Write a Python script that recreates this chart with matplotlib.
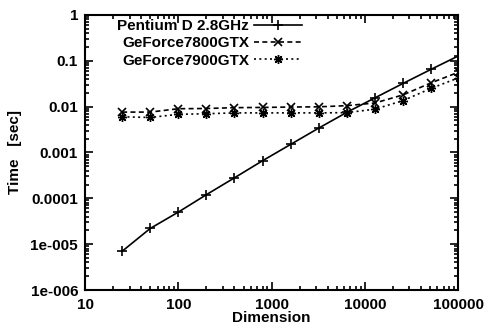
import matplotlib
matplotlib.use("Agg")
import matplotlib.pyplot as plt
from matplotlib.ticker import LogLocator, FixedLocator, FixedFormatter, NullFormatter

plt.rcParams['font.family'] = ['Liberation Sans', 'DejaVu Sans']

dimension = [25, 50, 100, 200, 400, 800, 1600, 3200, 6400, 12800, 25600, 51200, 102400]
pentium = [7e-6, 2.2e-5, 5e-5, 1.2e-4, 2.8e-4, 6.6e-4, 1.5e-3, 3.4e-3, 7.5e-3,
           0.0155, 0.032, 0.065, 0.13]
gf7800 = [0.0076, 0.0076, 0.009, 0.0091, 0.0095, 0.0096, 0.0098, 0.0099, 0.0105,
          0.012, 0.018, 0.033, 0.057]
gf7900 = [0.006, 0.0058, 0.0068, 0.007, 0.0073, 0.0073, 0.0073, 0.0073, 0.0074,
          0.0088, 0.0135, 0.025, 0.043]

yticks = [1e-6, 1e-5, 1e-4, 1e-3, 1e-2, 1e-1, 1]
ytick_labels = ['1e-006', '1e-005', '0.0001', '0.001', '0.01', '0.1', '1']
xticks = [10, 100, 1000, 10000, 100000]
xtick_labels = ['10', '100', '1000', '10000', '100000']

fig = plt.figure(figsize=(4.9, 3.32), dpi=100)
ax = fig.add_axes([0.1735, 0.1265, 0.7615, 0.8285])

lw = 1.2
ax.plot(dimension, pentium, color='black', lw=lw, linestyle='-', marker='+',
        markersize=7, mew=1.2, label='Pentium D 2.8GHz')
ax.plot(dimension, gf7800, color='black', lw=lw, linestyle=(0, (3, 2)), marker='x',
        markersize=6, mew=1.2, label='GeForce7800GTX')
ax.plot(dimension, gf7900, color='black', lw=lw, linestyle=(0, (1.2, 2)), marker=(8, 2, 0),
        markersize=6.5, mew=1.0, label='GeForce7900GTX')

ax.set_xscale('log')
ax.set_yscale('log')
ax.set_xlim(10, 100000)
ax.set_ylim(1e-6, 1)

ax.xaxis.set_major_locator(FixedLocator(xticks))
ax.xaxis.set_major_formatter(FixedFormatter(xtick_labels))
ax.yaxis.set_major_locator(FixedLocator(yticks))
ax.yaxis.set_major_formatter(FixedFormatter(ytick_labels))
ax.xaxis.set_minor_locator(LogLocator(base=10, subs=range(2, 10), numticks=20))
ax.yaxis.set_minor_locator(LogLocator(base=10, subs=range(2, 10), numticks=20))
ax.xaxis.set_minor_formatter(NullFormatter())
ax.yaxis.set_minor_formatter(NullFormatter())

ax.tick_params(which='both', direction='in', top=True, right=True, width=1.2)
ax.tick_params(which='major', length=6)
ax.tick_params(which='minor', length=3)
ax.tick_params(axis='x', which='major', pad=6, labelsize=11)
ax.tick_params(axis='y', which='major', pad=5, labelsize=11)
for lab in ax.get_xticklabels() + ax.get_yticklabels():
    lab.set_fontweight('bold')

for s in ax.spines.values():
    s.set_linewidth(1.5)

ax.set_xlabel('Dimension', fontsize=11, fontweight='bold', labelpad=-1)
ax.set_ylabel('Time   [sec]', fontsize=11, fontweight='bold', labelpad=6)

leg = ax.legend(loc='upper left', bbox_to_anchor=(0.062, 1.018), frameon=False,
                markerfirst=False, handlelength=3.1, handletextpad=0.35,
                labelspacing=0.21, borderaxespad=0.2,
                prop={'size': 11, 'weight': 'bold'})

fig.savefig('out.png', dpi=100)
